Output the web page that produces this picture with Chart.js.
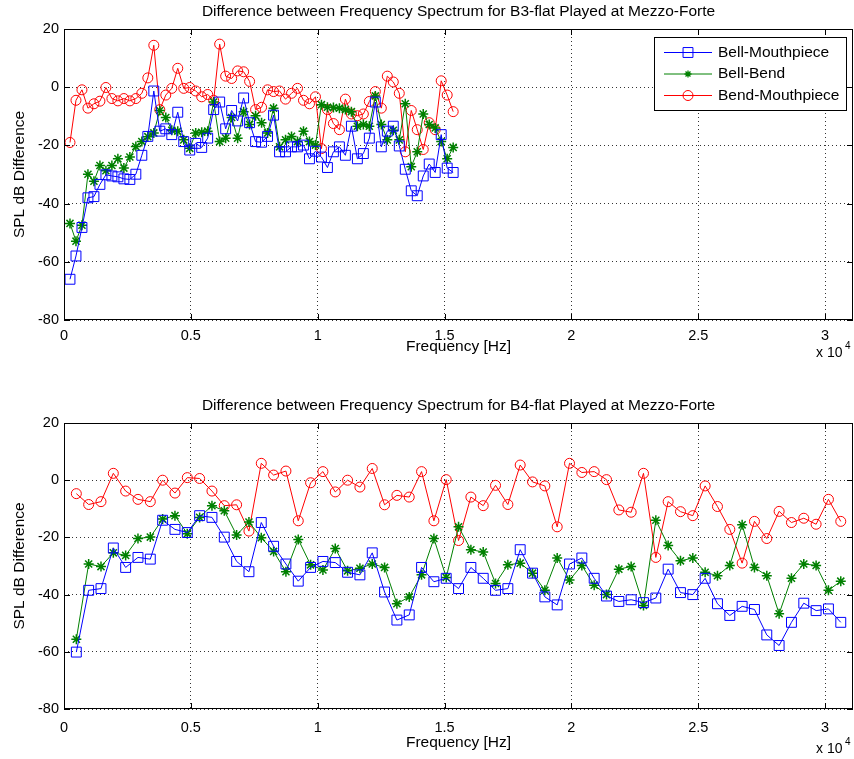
<!DOCTYPE html>
<html>
<head>
<meta charset="utf-8">
<script src="https://cdn.jsdelivr.net/npm/chart.js@4.4.1/dist/chart.umd.min.js"></script>
<style>
  body { margin: 0; background: #fff; }
  #wrap { position: relative; width: 854px; height: 759px; }
  canvas { position: absolute; left: 0; }
</style>
</head>
<body>
<div id="wrap">
  <canvas id="chartTop" width="854" height="380" style="top:0"></canvas>
  <canvas id="chartBottom" width="854" height="379" style="top:380px"></canvas>
</div>
<script>
// harmonic frequencies (Hz)
var freqTop = [236, 472, 708, 944, 1180, 1416, 1652, 1888, 2124, 2360, 2596, 2832, 3068, 3304, 3540,
  3776, 4012, 4248, 4484, 4720, 4956, 5192, 5428, 5664, 5900, 6136, 6372, 6608, 6844, 7080,
  7316, 7552, 7788, 8024, 8260, 8496, 8732, 8968, 9204, 9440, 9676, 9912, 10148, 10384, 10620,
  10856, 11092, 11328, 11564, 11800, 12036, 12272, 12508, 12744, 12980, 13216, 13452, 13688, 13924, 14160,
  14396, 14632, 14868, 15104, 15340];

var freqBottom = [486, 972, 1458, 1944, 2430, 2916, 3402, 3888, 4374, 4860, 5346, 5832, 6318, 6804, 7290,
  7776, 8262, 8748, 9234, 9720, 10206, 10692, 11178, 11664, 12150, 12636, 13122, 13608, 14094, 14580,
  15066, 15552, 16038, 16524, 17010, 17496, 17982, 18468, 18954, 19440, 19926, 20412, 20898, 21384, 21870,
  22356, 22842, 23328, 23814, 24300, 24786, 25272, 25758, 26244, 26730, 27216, 27702, 28188, 28674, 29160,
  29646, 30132, 30618];

// B3-flat
var bellMouthTop = [-66, -58, -48.2, -38, -37.6, -33.4, -30.1, -30.5, -30.8, -31.5,
  -31.7, -29.9, -23.4, -16.9, -1.3, -15.1, -14.3, -16.3, -8.6, -18.7,
  -21.6, -19.3, -20.7, -17.5, -7.7, -5.1, -14.3, -8.0, -11.6, -3.7,
  -12.2, -18.7, -18.9, -16.9,
  -9.6, -22.2, -22.2, -20.5, -20.5, -19.9, -24.6, -22.0, -24.0, -27.6,
  -22.2, -20.5, -23.4, -13.4, -24.6, -22.8, -17.5, -5.1, -20.5, -15.1,
  -13.4, -20.2, -28.2, -35.6, -37.3, -30.5, -26.4, -29.3, -16.3, -27.8, -29.3];
var bellBendTop = [-46.8, -52.9, -47.4, -29.9, -32.3, -26.9, -28.7, -26.9, -24.6, -27.8,
  -24.0, -20.4, -18.7, -17.0, -15.7, -8.0, -10.4, -14.8, -15.1, -18.1,
  -21.0, -15.7, -15.5, -15.1, -5.1, -18.7, -17.5, -10.4, -17.5, -8.4,
  -12.8, -9.8, -12.2, -15.7,
  -7.2, -20.5, -18.1, -16.9, -18.7, -15.1, -18.7, -19.9, -6.0, -6.9,
  -7.0, -7.2, -7.7, -8.4, -13.4, -12.8, -13.4, -3.0, -12.8, -18.1,
  -14.8, -18.1, -5.7, -27.3, -22.2, -9.2, -12.8, -14.0, -18.7, -24.6, -20.7];
var bendMouthTop = [-19, -4.5, -0.9, -7.2, -5.7, -4.8, -0.1, -3.9, -4.7, -3.9,
  -4.7, -3.9, -2.1, 3.2, 14.4, -7.7, -2.7, -0.4, 6.5, -0.4,
  -0.1, -1.3, -3.3, -2.5, -4.5, 14.8, 3.8, 3.0, 5.6, 5.3,
  2.0, -7.7, -6.9, -0.9,
  -1.5, -1.3, -4.1, -2.1, -0.4, -4.5, -5.7, -3.3, -21.1, -7.7,
  -12.5, -14.6, -4.1, -9.2, -9.8, -9.2, -4.9, -1.5, -7.2, 3.8,
  1.8, -2.1, -22.2, -8.0, -14.6, -21.4, -12.2, -14.6, 2.2, -2.7, -8.4];

// B4-flat
var bellMouthBottom = [-60.1, -38.5, -37.9, -23.7, -30.5, -27.0, -27.6, -14.0, -17.2, -18.3,
  -12.4, -13.0, -19.9, -28.4, -32.0, -14.8, -23.1, -29.3, -35.3, -30.5,
  -28.4, -28.8, -32.2, -33.1, -25.4, -39.1, -48.9, -47.1, -30.5, -35.5,
  -34.3, -37.9, -30.5, -34.3, -38.5, -37.9, -24.3, -32.5, -40.8, -43.6,
  -29.3, -27.2, -34.3, -40.5, -42.4, -41.8, -42.8, -41.2, -31.1, -39.3,
  -40.0, -34.3, -43.2, -47.3, -44.1, -45.2, -54.1, -57.8, -49.7, -43.0,
  -45.6, -45.0, -49.7];
var bellBendBottom = [-55.6, -29.3, -30.2, -25.4, -26.3, -20.4, -19.9, -13.6, -12.4, -18.7,
  -13.0, -8.9, -10.7, -19.2, -14.6, -20.1, -24.9, -32.0, -20.7, -29.6,
  -31.4, -23.9, -31.7, -30.8, -29.3, -30.5, -43.2, -40.8, -33.1, -20.4,
  -34.0, -16.3, -24.3, -25.1, -36.1, -29.6, -29.0, -32.5, -38.5, -27.2,
  -34.9, -29.8, -36.7, -40.0, -31.1, -30.2, -43.8, -14.0, -22.8, -28.2,
  -27.2, -32.2, -33.4, -29.8, -15.6, -30.5, -33.4, -46.7, -34.3, -29.3,
  -29.8, -38.5, -35.3];
var bendMouthBottom = [-4.7, -8.5, -7.5, 2.4, -3.8, -6.7, -7.5, 0, -4.5, 0.9,
  0.6, -3.8, -8.9, -8.6, -17.8, 5.9, 1.8, 3.2, -14.2, -0.9,
  3.0, -4.1, 0, -2.4, 4.1, -8.6, -5.3, -5.9, 3.0, -14.2,
  0.2, -21.1, -5.9, -8.9, -1.8, -8.5, 5.3, -0.6, -2.0, -16.3,
  5.9, 2.7, 3.0, 0.2, -10.4, -11.2, 2.4, -27.0, -7.5, -11.0,
  -12.4, -2.0, -9.2, -17.2, -29.0, -14.4, -20.4, -10.9, -14.8, -13.3,
  -15.4, -6.7, -14.4];

var seriesNames = ['Bell-Mouthpiece', 'Bell-Bend', 'Bend-Mouthpiece'];
var seriesColors = ['#0000ff', '#008000', '#ff0000'];
var seriesMarkers = ['rect', 'star', 'circle'];
var markerSizes = [7, 5, 5];

var xTicks = [0, 5000, 10000, 15000, 20000, 25000, 30000];
var xTickLabels = ['0', '0.5', '1', '1.5', '2', '2.5', '3'];
var yTicks = [-80, -60, -40, -20, 0, 20];
var xMax = 31100;

var fontFam = '"Liberation Sans", Arial, sans-serif';
var labelFont = '15.5px ' + fontFam;

function drawMarker(ctx, style, x, y, r, color) {
    ctx.save();
    ctx.strokeStyle = color;
    ctx.lineWidth = style == 'star' ? 1.3 : 1;
    ctx.beginPath();
    if (style == 'rect') {
        var s = r * Math.SQRT1_2;
        ctx.rect(x - s, y - s, 2 * s, 2 * s);
    } else if (style == 'circle') {
        ctx.arc(x, y, r, 0, Math.PI * 2);
    } else {
        ctx.moveTo(x - r, y); ctx.lineTo(x + r, y);
        ctx.moveTo(x, y - r); ctx.lineTo(x, y + r);
        var d = r * Math.SQRT1_2;
        ctx.moveTo(x - d, y - d); ctx.lineTo(x + d, y + d);
        ctx.moveTo(x - d, y + d); ctx.lineTo(x + d, y - d);
    }
    ctx.stroke();
    ctx.restore();
}

// box, inward ticks, labels and legend in matlab style
var matlabFrame = {
    id: 'matlabFrame',
    afterDraw: function (chart, args, opts) {
        var ctx = chart.ctx;
        var a = chart.chartArea;
        var sx = chart.scales.x, sy = chart.scales.y;
        ctx.save();
        ctx.strokeStyle = '#000';
        ctx.lineWidth = 1;
        ctx.strokeRect(Math.round(a.left) + 0.5, Math.round(a.top) + 0.5,
            Math.round(a.right - a.left) - 1, Math.round(a.bottom - a.top) - 1);
        ctx.beginPath();
        xTicks.forEach(function (v) {
            var px = Math.round(sx.getPixelForValue(v)) + 0.5;
            ctx.moveTo(px, a.bottom); ctx.lineTo(px, a.bottom - 6);
            ctx.moveTo(px, a.top); ctx.lineTo(px, a.top + 6);
        });
        yTicks.forEach(function (v) {
            var py = Math.round(sy.getPixelForValue(v)) + 0.5;
            ctx.moveTo(a.left, py); ctx.lineTo(a.left + 6, py);
            ctx.moveTo(a.right, py); ctx.lineTo(a.right - 6, py);
        });
        ctx.stroke();

        ctx.fillStyle = '#000';
        ctx.font = labelFont;
        ctx.textAlign = 'center';
        ctx.textBaseline = 'middle';
        var cx = (a.left + a.right) / 2;
        ctx.fillText(opts.title, cx, a.top - 17);
        ctx.fillText('Frequency [Hz]', cx, a.bottom + opts.xlabOff);
        ctx.textAlign = 'left';
        ctx.font = '14px ' + fontFam;
        ctx.fillText('x 10', a.right - 37, a.bottom + opts.xlabOff + 6);
        ctx.font = '10px ' + fontFam;
        ctx.fillText('4', a.right - 8, a.bottom + opts.xlabOff - 1);
        ctx.font = labelFont;
        ctx.save();
        ctx.translate(20, (a.top + a.bottom) / 2);
        ctx.rotate(-Math.PI / 2);
        ctx.textAlign = 'center';
        ctx.fillText('SPL dB Difference', 0, 0);
        ctx.restore();

        if (opts.legend) {
            var bx = Math.round(a.right) - 199, by = Math.round(a.top) + 8, bw = 192, bh = 73;
            ctx.fillStyle = '#fff';
            ctx.fillRect(bx, by, bw, bh);
            ctx.strokeStyle = '#000';
            ctx.strokeRect(bx + 0.5, by + 0.5, bw, bh);
            for (var i = 0; i < seriesNames.length; i++) {
                var ry = by + 15.5 + i * 21.5;
                ctx.strokeStyle = seriesColors[i];
                ctx.beginPath();
                ctx.moveTo(bx + 10, ry); ctx.lineTo(bx + 58, ry);
                ctx.stroke();
                drawMarker(ctx, seriesMarkers[i], bx + 34, ry, i == 1 ? 3.5 : markerSizes[i], seriesColors[i]);
                ctx.fillStyle = '#000';
                ctx.textAlign = 'left';
                ctx.fillText(seriesNames[i], bx + 64, ry);
            }
        }
        ctx.restore();
    }
};

function plotar(canvasId, freq, valores, titulo, topPad, xAxisH, xlabOff, tickPad, comLegenda) {
    var datasets = [];
    for (var s = 0; s < valores.length; s++) {
        var pts = [];
        for (var i = 0; i < freq.length; i++) {
            pts.push({ x: freq[i], y: valores[s][i] });
        }
        datasets.push({
            label: seriesNames[s],
            data: pts,
            showLine: true,
            borderColor: seriesColors[s],
            backgroundColor: 'rgba(0,0,0,0)',
            borderWidth: 1,
            pointStyle: seriesMarkers[s],
            pointRadius: markerSizes[s],
            pointBorderColor: seriesColors[s],
            pointBackgroundColor: 'rgba(0,0,0,0)',
            pointBorderWidth: s == 1 ? 1.5 : 1,
            tension: 0
        });
    }

    new Chart(document.getElementById(canvasId), {
        type: 'scatter',
        data: { datasets: datasets },
        options: {
            responsive: false,
            animation: false,
            events: [],
            layout: { autoPadding: false, padding: { top: topPad, right: 1, left: 0, bottom: 0 } },
            plugins: {
                legend: { display: false },
                tooltip: { enabled: false },
                matlabFrame: { title: titulo, legend: comLegenda, xlabOff: xlabOff }
            },
            scales: {
                x: {
                    type: 'linear',
                    min: 0,
                    max: xMax,
                    afterBuildTicks: function (sc) { sc.ticks = xTicks.map(function (v) { return { value: v }; }); },
                    afterFit: function (sc) { sc.height = xAxisH; sc.paddingLeft = 0; sc.paddingRight = 0; },
                    grid: { color: '#333', lineWidth: 1, drawTicks: false },
                    border: { display: false, dash: [1, 3] },
                    ticks: {
                        padding: tickPad,
                        color: '#000',
                        autoSkip: false,
                        maxRotation: 0,
                        font: { family: fontFam, size: 14.5 },
                        callback: function (v, i) { return xTickLabels[i]; }
                    }
                },
                y: {
                    type: 'linear',
                    min: -80,
                    max: 20,
                    afterBuildTicks: function (sc) { sc.ticks = yTicks.map(function (v) { return { value: v }; }); },
                    afterFit: function (sc) { sc.width = 64; },
                    grid: { color: '#333', lineWidth: 1, drawTicks: false },
                    border: { display: false, dash: [1, 3] },
                    ticks: {
                        padding: 5,
                        color: '#000',
                        font: { family: fontFam, size: 14.5 },
                        callback: function (v) { return String(v); }
                    }
                }
            }
        },
        plugins: [matlabFrame]
    });
}

plotar('chartTop', freqTop, [bellMouthTop, bellBendTop, bendMouthTop],
    'Difference between Frequency Spectrum for B3-flat Played at Mezzo-Forte', 29, 60, 27, 7, true);
plotar('chartBottom', freqBottom, [bellMouthBottom, bellBendBottom, bendMouthBottom],
    'Difference between Frequency Spectrum for B4-flat Played at Mezzo-Forte', 43, 50, 34, 10, false);
</script>
</body>
</html>
